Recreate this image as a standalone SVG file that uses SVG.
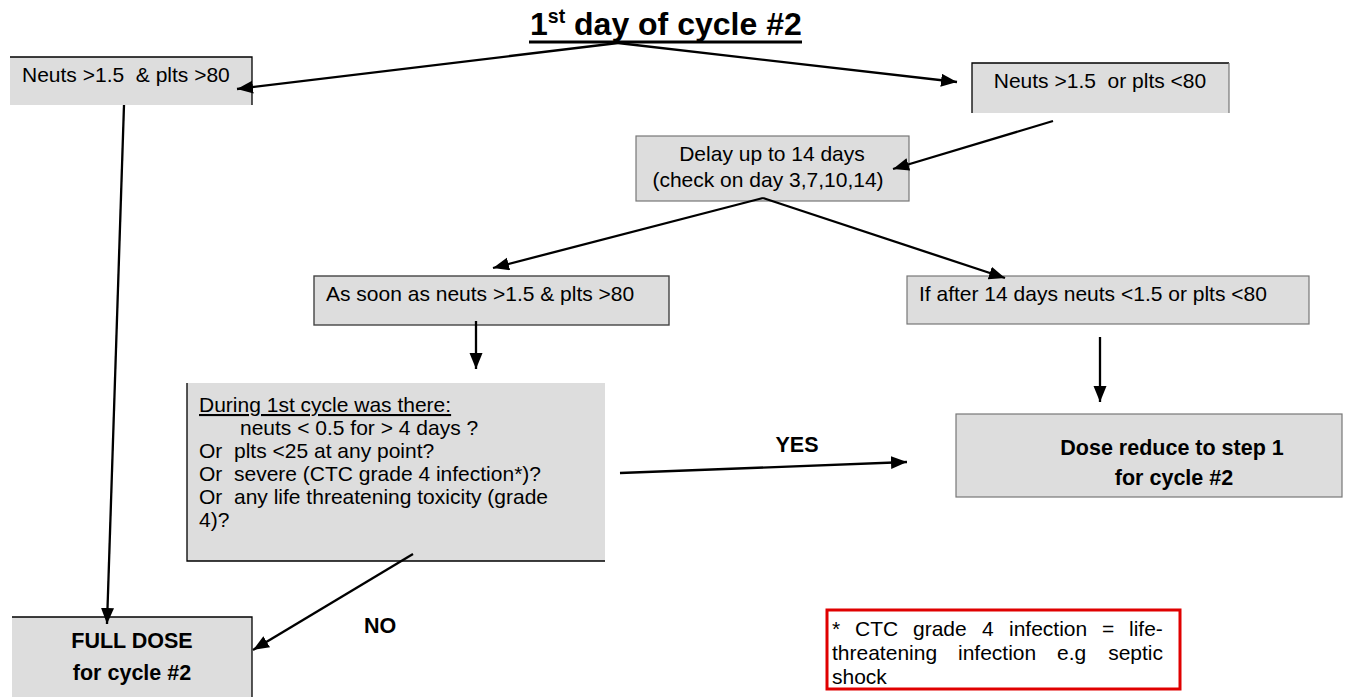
<svg xmlns="http://www.w3.org/2000/svg" width="1350" height="697" viewBox="0 0 1350 697">
<style>
.box{fill:#dddddd;stroke:none}
.edge{fill:none;stroke:#000;stroke-width:1.3}
.gedge{fill:none;stroke:#777;stroke-width:1.2}
.t{font-family:"Liberation Sans",Arial,sans-serif;font-size:21px;fill:#000}
.b{font-family:"Liberation Sans",Arial,sans-serif;font-size:21.5px;font-weight:bold;fill:#000}
.c{text-anchor:middle}
.conn line{stroke:#000;stroke-width:2.3;marker-end:url(#ah)}
</style>
<defs>
<marker id="ah" markerUnits="userSpaceOnUse" markerWidth="17" markerHeight="14" refX="16" refY="6.5" orient="auto">
<path d="M0,0 L16,6.5 L0,13 z" fill="#000"/>
</marker>
</defs>
<rect width="1350" height="697" fill="#fff"/>

<g id="title">
<text class="b" x="530" y="35" style="font-size:32px">1<tspan style="font-size:19.5px" dy="-12">st</tspan><tspan dy="12"> day of cycle #2</tspan></text>
<line x1="529" y1="42" x2="802" y2="42" stroke="#000" stroke-width="3"/>
</g>

<g id="node-full-cond">
<rect class="box" x="10" y="57" width="242" height="48"/>
<path class="edge" d="M10,57 H252 V105"/>
<text class="t" x="22" y="82" xml:space="preserve">Neuts &gt;1.5  &amp; plts &gt;80</text>
</g>

<g id="node-or-cond">
<rect class="box" x="972" y="63" width="257" height="50"/>
<path class="edge" d="M972,113 V63 H1229"/>
<path class="gedge" d="M1229,63 V113"/>
<text class="t c" x="1100" y="88" xml:space="preserve">Neuts &gt;1.5  or plts &lt;80</text>
</g>

<g id="node-delay">
<rect class="box" x="636" y="136" width="273" height="65"/>
<rect class="gedge" x="636" y="136" width="273" height="65"/>
<text class="t c" x="772" y="161">Delay up to 14 days</text>
<text class="t c" x="768" y="187">(check on day 3,7,10,14)</text>
</g>

<g id="node-as-soon">
<rect class="box" x="314" y="276" width="355" height="49"/>
<rect x="314" y="276" width="355" height="49" fill="none" stroke="#444" stroke-width="1.4"/>
<text class="t" x="326" y="301">As soon as neuts &gt;1.5 &amp; plts &gt;80</text>
</g>

<g id="node-if-after">
<rect class="box" x="907" y="276" width="402" height="48"/>
<rect class="gedge" x="907" y="276" width="402" height="48"/>
<text class="t" x="919" y="301">If after 14 days neuts &lt;1.5 or plts &lt;80</text>
</g>

<g id="node-dose-reduce">
<rect class="box" x="956" y="414" width="386" height="83"/>
<rect class="gedge" x="956" y="414" width="386" height="83"/>
<text class="b c" x="1172" y="455">Dose reduce to step 1</text>
<text class="b c" x="1174" y="485">for cycle #2</text>
</g>

<g id="node-during">
<rect class="box" x="187" y="383" width="418" height="178"/>
<path class="edge" d="M187,383 V561 H605"/>
<text class="t" x="199" y="412" text-decoration="underline">During 1st cycle was there:</text>
<text class="t" x="240" y="435">neuts &lt; 0.5 for &gt; 4 days ?</text>
<text class="t" x="199" y="458">Or<tspan x="234">plts &lt;25 at any point?</tspan></text>
<text class="t" x="199" y="481">Or<tspan x="234">severe (CTC grade 4 infection*)?</tspan></text>
<text class="t" x="199" y="504">Or<tspan x="234">any life threatening toxicity (grade</tspan></text>
<text class="t" x="199" y="527">4)?</text>
</g>

<g id="node-full-dose">
<rect class="box" x="12" y="617" width="240" height="80"/>
<path class="edge" d="M12,617 H252 V697"/>
<text class="b c" x="132" y="648">FULL DOSE</text>
<text class="b c" x="132" y="680">for cycle #2</text>
</g>

<g id="note">
<rect x="827" y="610" width="353" height="79" fill="#fff" stroke="#e00000" stroke-width="3"/>
<text class="t" y="636"><tspan x="832">*</tspan><tspan x="855">CTC</tspan><tspan x="913">grade</tspan><tspan x="982">4</tspan><tspan x="1009">infection</tspan><tspan x="1102">=</tspan><tspan x="1129">life-</tspan></text>
<text class="t" y="660"><tspan x="832">threatening</tspan><tspan x="958">infection</tspan><tspan x="1057">e.g</tspan></text>
<text class="t" y="660" text-anchor="end" x="1163">septic</text>
<text class="t" x="832" y="684">shock</text>
</g>

<g id="labels">
<text class="b c" x="797" y="452">YES</text>
<text class="b c" x="380" y="633">NO</text>
</g>

<g id="connectors" class="conn">
<line x1="618" y1="43" x2="237" y2="89"/>
<line x1="618" y1="43" x2="957" y2="82"/>
<line x1="124" y1="105" x2="107" y2="624"/>
<line x1="1053" y1="121" x2="893" y2="169"/>
<line x1="763" y1="198" x2="493" y2="268"/>
<line x1="763" y1="198" x2="1005" y2="278"/>
<line x1="476" y1="321" x2="476" y2="369"/>
<line x1="1100" y1="337" x2="1100" y2="402"/>
<line x1="620" y1="473" x2="907" y2="462"/>
<line x1="413" y1="554" x2="253" y2="650"/>
</g>
</svg>
